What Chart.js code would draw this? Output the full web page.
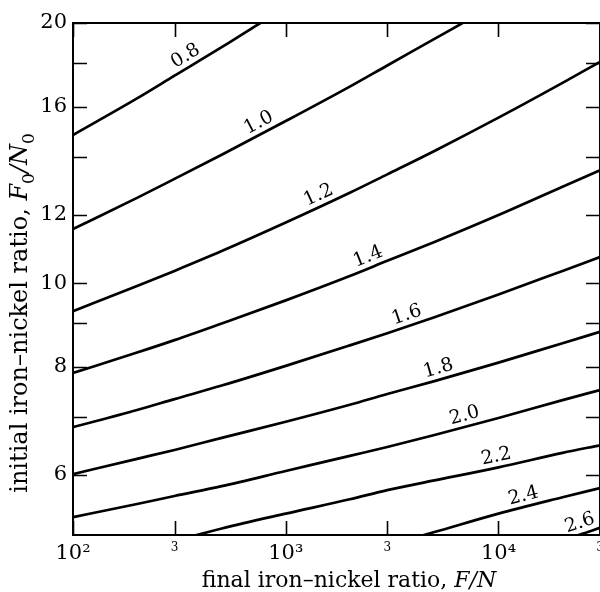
<!DOCTYPE html>
<html>
<head>
<meta charset="utf-8">
<script src="https://cdn.jsdelivr.net/npm/chart.js@4/dist/chart.umd.min.js"></script>
<style>
  html, body { margin: 0; padding: 0; background: #fff; }
</style>
</head>
<body>
<canvas id="chart" width="600" height="592"></canvas>
<script>
// Contours of equal value drawn over final vs. initial iron-nickel ratio.
// Both axes are logarithmic.

var FONT = '"DejaVu Serif", "Liberation Serif", serif';

// Axis ticks and their labels (blank = unlabelled tick mark).
var xTicks = [100, 300, 1000, 3000, 10000, 30000];
var xTickLabels = ['10²', '3', '10³', '3', '10⁴', '3'];
var yTicks = [6, 7, 8, 9, 10, 12, 14, 16, 18, 20];
var yTickLabels = ['6', '', '8', '', '10', '12', '', '16', '', '20'];

// Contour levels.
var levels = ['0.8', '1.0', '1.2', '1.4', '1.6', '1.8', '2.0', '2.2', '2.4', '2.6'];

// Sampled F/N values shared by the curves that cross the whole plot.
var xs = [100, 200, 300, 500, 1000, 2000, 3000, 5000, 10000, 20000, 30000];

// F0/N0.
var c08X = [100, 200, 300, 500, 759];
var c08Y = [14.84, 16.36, 17.38, 18.75, 20.0];
var c10X = [100, 200, 300, 500, 1000, 2000, 3000, 5000, 6780];
var c10Y = [11.55, 12.55, 13.20, 14.08, 15.40, 16.88, 17.86, 19.17, 20.0];
var c12Y = [9.28, 9.92, 10.33, 10.89, 11.75, 12.72, 13.36, 14.22, 15.54, 17.05, 18.03];
var c14Y = [7.87, 8.31, 8.59, 8.98, 9.55, 10.19, 10.61, 11.16, 11.99, 12.93, 13.51];
var c16Y = [6.81, 7.13, 7.34, 7.61, 8.02, 8.47, 8.75, 9.13, 9.70, 10.33, 10.72];
var c18Y = [6.01, 6.26, 6.41, 6.62, 6.91, 7.23, 7.44, 7.70, 8.09, 8.52, 8.78];
var c20Y = [5.36, 5.55, 5.67, 5.82, 6.06, 6.31, 6.46, 6.67, 6.98, 7.32, 7.52];
var c22X = [300, 500, 1000, 2000, 3000, 5000, 10000, 20000, 30000];
var c22Y = [5.03, 5.20, 5.41, 5.62, 5.76, 5.91, 6.12, 6.36, 6.49];
var c24X = [3000, 5000, 10000, 20000, 30000];
var c24Y = [4.97, 5.15, 5.41, 5.65, 5.79];
var c26X = [20000, 25000, 30000];
var c26Y = [5.04, 5.13, 5.21];

var curvesX = [c08X, c10X, xs, xs, xs, xs, xs, c22X, c24X, c26X];
var curvesY = [c08Y, c10Y, c12Y, c14Y, c16Y, c18Y, c20Y, c22Y, c24Y, c26Y];

// F/N where each level's label sits on its curve.
var labelAt = [360, 790, 1500, 2550, 3850, 5400, 7150, 10000, 13500, 25000];

var datasets = levels.map(function(level, i) {
  return {
    label: level,
    data: curvesX[i].map(function(x, j) { return { x: x, y: curvesY[i][j] }; }),
    borderColor: '#000',
    borderWidth: 2.7,
    pointRadius: 0,
    fill: false,
    cubicInterpolationMode: 'monotone'
  };
});

// Draws text made of pieces (plain, italic, subscript) centred on (cx, cy).
function drawRich(ctx, parts, cx, cy, size) {
  var fontFor = function(p) {
    return (p.it ? 'italic ' : '') + (p.sub ? Math.round(size * 0.7) : size) + 'px ' + FONT;
  };
  var total = 0;
  parts.forEach(function(p) {
    ctx.font = fontFor(p);
    p.w = ctx.measureText(p.t).width;
    total += p.w;
  });
  var x = cx - total / 2;
  parts.forEach(function(p) {
    ctx.font = fontFor(p);
    ctx.fillText(p.t, x, cy + (p.sub ? size * 0.28 : 0));
    x += p.w;
  });
}

// Frame, inward tick marks on all four sides, axis titles and contour labels.
var decorations = {
  id: 'decorations',
  afterDraw: function(chart) {
    var ctx = chart.ctx;
    var area = chart.chartArea;
    var sx = chart.scales.x;
    var sy = chart.scales.y;
    var tick = 14;

    ctx.save();
    ctx.strokeStyle = '#000';
    ctx.fillStyle = '#000';

    ctx.lineWidth = 2;
    ctx.strokeRect(area.left, area.top, area.right - area.left, area.bottom - area.top);

    ctx.lineWidth = 1.6;
    ctx.beginPath();
    sx.ticks.forEach(function(t) {
      var px = Math.round(sx.getPixelForValue(t.value)) + 0.5;
      ctx.moveTo(px, area.bottom); ctx.lineTo(px, area.bottom - tick);
      ctx.moveTo(px, area.top); ctx.lineTo(px, area.top + tick);
    });
    sy.ticks.forEach(function(t) {
      var py = Math.round(sy.getPixelForValue(t.value)) + 0.5;
      ctx.moveTo(area.left, py); ctx.lineTo(area.left + tick, py);
      ctx.moveTo(area.right, py); ctx.lineTo(area.right - tick, py);
    });
    ctx.stroke();

    // axis titles
    ctx.textAlign = 'left';
    ctx.textBaseline = 'alphabetic';
    drawRich(ctx, [
      { t: 'final iron–nickel ratio, ' },
      { t: 'F/N', it: true }
    ], 349, 587, 22);

    ctx.save();
    ctx.translate(27, 313);
    ctx.rotate(-Math.PI / 2);
    drawRich(ctx, [
      { t: 'initial iron–nickel ratio, ' },
      { t: 'F', it: true }, { t: '0', sub: true },
      { t: '/', it: true },
      { t: 'N', it: true }, { t: '0', sub: true }
    ], 0, 0, 24);
    ctx.restore();

    // contour labels, rotated along their curve and lifted just above it
    ctx.font = '19px ' + FONT;
    ctx.textAlign = 'center';
    ctx.textBaseline = 'middle';
    levels.forEach(function(level, i) {
      var pts = chart.getDatasetMeta(i).data;
      var px = sx.getPixelForValue(labelAt[i]);
      var k = 0;
      while (k < pts.length - 2 && pts[k + 1].x < px) k++;
      var a = pts[k], b = pts[k + 1];
      var f = (px - a.x) / (b.x - a.x);
      var py = a.y + f * (b.y - a.y);
      var ang = Math.atan2(b.y - a.y, b.x - a.x);
      var off = 11;
      ctx.save();
      ctx.translate(px + Math.sin(ang) * off, py - Math.cos(ang) * off);
      ctx.rotate(ang);
      ctx.fillText(level, 0, 0);
      ctx.restore();
    });

    ctx.restore();
  }
};

new Chart(document.getElementById('chart'), {
  type: 'line',
  data: { datasets: datasets },
  options: {
    responsive: false,
    animation: false,
    layout: { padding: { top: 23, right: 0, bottom: 0, left: 0 } },
    plugins: {
      legend: { display: false },
      tooltip: { enabled: false }
    },
    scales: {
      x: {
        type: 'logarithmic',
        min: 100,
        max: 30000,
        grid: { display: false, drawTicks: false },
        border: { display: false },
        afterBuildTicks: function(s) { s.ticks = xTicks.map(function(v) { return { value: v }; }); },
        afterFit: function(s) {
          s.height = 57;
          s.paddingLeft = 0;
          s.paddingRight = 0;
        },
        ticks: {
          autoSkip: false,
          maxRotation: 0,
          minRotation: 0,
          padding: 6,
          color: '#000',
          callback: function(v, i) { return xTickLabels[i]; },
          font: function(c) {
            return { family: FONT, size: xTickLabels[c.index] === '3' ? 12 : 21 };
          }
        }
      },
      y: {
        type: 'logarithmic',
        min: 5.11,
        max: 20,
        grid: { display: false, drawTicks: false },
        border: { display: false },
        afterBuildTicks: function(s) { s.ticks = yTicks.map(function(v) { return { value: v }; }); },
        afterFit: function(s) {
          s.width = 73;
          s.paddingTop = 0;
          s.paddingBottom = 0;
        },
        ticks: {
          autoSkip: false,
          padding: 6,
          color: '#000',
          font: { family: FONT, size: 21 },
          callback: function(v, i) { return yTickLabels[i]; }
        }
      }
    }
  },
  plugins: [decorations]
});
</script>
</body>
</html>
